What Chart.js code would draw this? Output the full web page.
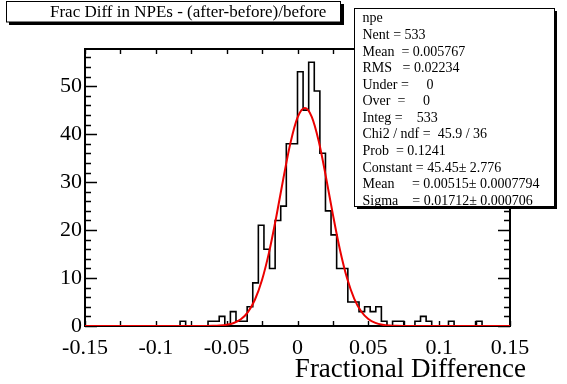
<!DOCTYPE html>
<html>
<head>
<meta charset="utf-8">
<script src="https://cdn.jsdelivr.net/npm/chart.js@4.4.1/dist/chart.umd.min.js"></script>
<style>
html,body{margin:0;padding:0;background:#fff;}
#wrap{width:567px;height:384px;position:relative;}
</style>
</head>
<body>
<div id="wrap"><canvas id="c" width="567" height="384"></canvas></div>
<script>
// ---------------- data ----------------
const histRange = [-0.15, 0.15];
const binCounts = [
  0,0,0,0,0,0,0,0,0,0,
  0,0,0,0,0,0,0,1,0,0,
  0,0,1,1,2,0,3,1,1,4,
  9,21,16,12,22,25,38,38,53,45,
  55,49,36,24,19,12,12,5,5,3,
  4,3,4,1,0,1,1,0,0,1,
  2,1,0,0,0,1,0,0,0,0,
  1,0,0,0,0,0
];
const fitX = [-0.15,-0.07,-0.065,-0.06,-0.055,-0.05,-0.045,-0.04,-0.035,-0.03,-0.025,-0.02,-0.015,-0.01,-0.005,0,0.00515,0.01,0.015,0.02,0.025,0.03,0.035,0.04,0.045,0.05,0.055,0.06,0.065,0.07,0.075,0.08,0.15];
const fitY = [0,0.003,0.010,0.033,0.095,0.254,0.623,1.403,2.906,5.522,9.640,15.449,22.735,30.725,38.125,43.439,45.45,43.662,38.517,31.200,23.206,15.850,9.940,5.725,3.027,1.470,0.655,0.268,0.101,0.035,0.011,0.003,0];
const xTickValues = [-0.15,-0.1,-0.05,0,0.05,0.1,0.15];
const xTickLabels = ['-0.15','-0.1','-0.05','0','0.05','0.1','0.15'];
const yTickValues = [0,10,20,30,40,50];
const yTickLabels = ['0','10','20','30','40','50'];
const yMax = 57.75;
const titleText = 'Frac Diff in NPEs - (after-before)/before';
const xAxisTitle = 'Fractional Difference';
const statsLines = [
  'npe',
  'Nent = 533',
  'Mean  = 0.005767',
  'RMS   = 0.02234',
  'Under =     0',
  'Over  =     0',
  'Integ =    533',
  'Chi2 / ndf =  45.9 / 36',
  'Prob  = 0.1241',
  'Constant = 45.45\u00b1 2.776',
  'Mean     = 0.00515\u00b1 0.0007794',
  'Sigma    = 0.01712\u00b1 0.000706'
];

// ---------------- build ----------------
const nBins = binCounts.length;
const binWidth = (histRange[1] - histRange[0]) / nBins;
const histPoints = [];
binCounts.forEach((c, i) => {
  const lo = histRange[0] + i * binWidth;
  histPoints.push({x: lo, y: c}, {x: lo + binWidth, y: c});
});
const fitPoints = fitX.map((x, i) => ({x: x, y: fitY[i]}));

const SERIF = '"Liberation Serif", "Times New Roman", serif';

const rootPlugin = {
  id: 'rootStyle',
  beforeDraw(chart) {
    const ctx = chart.ctx;
    ctx.save();
    ctx.fillStyle = '#fff';
    ctx.fillRect(0, 0, chart.width, chart.height);
    ctx.restore();
  },
  beforeDatasetsDraw(chart) {
    const {ctx, chartArea: a, scales: {x, y}} = chart;
    ctx.save();
    ctx.strokeStyle = '#000';
    ctx.lineWidth = 2;
    ctx.strokeRect(a.left, a.top, a.right - a.left, a.bottom - a.top);
    ctx.lineWidth = 1.4;
    ctx.beginPath();
    for (let k = 0; k <= 12; k++) {
      const v = histRange[0] + k * 0.025;
      const px = Math.round(x.getPixelForValue(v)) + 0.5;
      ctx.moveTo(px, a.bottom); ctx.lineTo(px, a.bottom - 5);
      ctx.moveTo(px, a.top); ctx.lineTo(px, a.top + 5);
    }
    for (let v = 0; v <= yMax; v += 2) {
      const py = Math.round(y.getPixelForValue(v)) + 0.5;
      const len = (v % 10 === 0) ? 12 : 6;
      ctx.moveTo(a.left, py); ctx.lineTo(a.left + len, py);
      ctx.moveTo(a.right, py); ctx.lineTo(a.right - len, py);
    }
    ctx.stroke();
    ctx.restore();
  },
  afterDraw(chart) {
    const ctx = chart.ctx;
    ctx.save();
    // title box
    ctx.fillStyle = '#000';
    ctx.fillRect(9, 4, 335, 21);
    ctx.fillStyle = '#fff';
    ctx.fillRect(6, 1, 335, 21);
    ctx.strokeStyle = '#000';
    ctx.lineWidth = 1;
    ctx.strokeRect(6.5, 1.5, 334, 20.5);
    ctx.fillStyle = '#000';
    ctx.font = '17px ' + SERIF;
    ctx.textBaseline = 'middle';
    ctx.textAlign = 'left';
    ctx.fillText(titleText, 50, 12.5);

    // stats box
    ctx.fillStyle = '#000';
    ctx.fillRect(357, 11, 200, 198);
    ctx.fillStyle = '#fff';
    ctx.fillRect(354, 8, 200, 198.5);
    ctx.fillStyle = '#000';
    ctx.font = '14px ' + SERIF;
    statsLines.forEach((s, i) => {
      ctx.fillText(s, 362.5, 18.7 + 16.58 * i);
    });
    ctx.strokeStyle = '#000';
    ctx.lineWidth = 1;
    ctx.strokeRect(354.5, 8.5, 200, 198);

    // x axis title
    ctx.font = '27px ' + SERIF;
    ctx.textAlign = 'right';
    ctx.textBaseline = 'middle';
    ctx.fillText(xAxisTitle, 526, 370);
    ctx.restore();
  }
};

new Chart(document.getElementById('c').getContext('2d'), {
  type: 'line',
  data: {
    datasets: [
      {data: fitPoints, borderColor: 'rgb(235,0,0)', borderWidth: 2, pointRadius: 0,
       cubicInterpolationMode: 'monotone', order: 0, fill: false},
      {data: histPoints, borderColor: '#000', borderWidth: 1.6, pointRadius: 0,
       tension: 0, order: 1, fill: false}
    ]
  },
  options: {
    responsive: false,
    animation: false,
    devicePixelRatio: 1,
    layout: {padding: {top: 49, right: 57, left: 0, bottom: 0}},
    plugins: {legend: {display: false}, tooltip: {enabled: false}, title: {display: false}},
    scales: {
      x: {
        type: 'linear', min: histRange[0], max: histRange[1],
        afterFit: s => { s.height = 58; },
        afterBuildTicks: s => { s.ticks = xTickValues.map(v => ({value: v})); },
        ticks: {
          callback: v => { const i = xTickValues.findIndex(t => Math.abs(t - v) < 1e-9); return i >= 0 ? xTickLabels[i] : ''; },
          font: {family: SERIF, size: 22}, color: '#000', padding: 9, maxRotation: 0, autoSkip: false
        },
        grid: {display: false, drawTicks: false},
        border: {display: false}
      },
      y: {
        type: 'linear', min: 0, max: yMax,
        afterFit: s => { s.width = 85; },
        afterBuildTicks: s => { s.ticks = yTickValues.map(v => ({value: v})); },
        ticks: {
          callback: v => { const i = yTickValues.indexOf(v); return i >= 0 ? yTickLabels[i] : ''; },
          font: {family: SERIF, size: 22}, color: '#000', padding: 3, autoSkip: false
        },
        grid: {display: false, drawTicks: false},
        border: {display: false}
      }
    }
  },
  plugins: [rootPlugin]
});
</script>
</body>
</html>
